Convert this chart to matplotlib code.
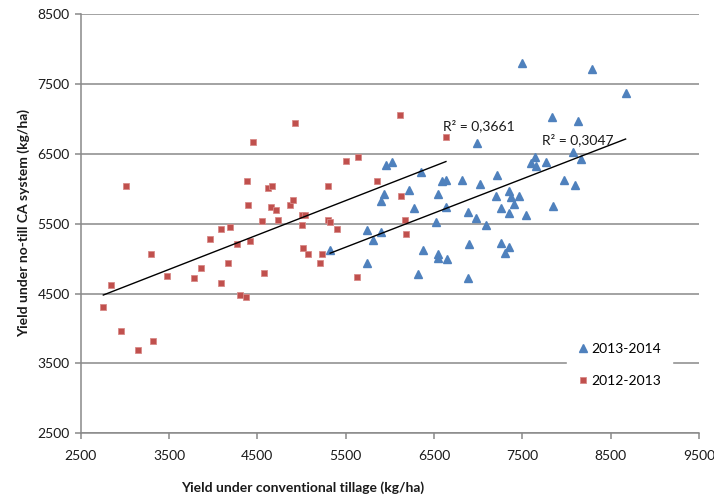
import numpy as np
import matplotlib
matplotlib.use("Agg")
import matplotlib.pyplot as plt

plt.rcParams['font.family'] = ['Lato', 'DejaVu Sans']

# 2012-2013 (red squares)
red_x = [2756, 2843, 2955, 3009, 3145, 3296, 3318, 3473, 3782, 3865,
         3967, 4091, 4091, 4164, 4194, 4273, 4306, 4367, 4383, 4391,
         4417, 4447, 4556, 4578, 4624, 4658, 4669, 4714, 4737, 4870,
         4900, 4926, 5009, 5009, 5013, 5039, 5077, 5209, 5228, 5296,
         5296, 5325, 5405, 5503, 5628, 5636, 5854, 6111, 6130, 6175,
         6182, 6635]
red_y = [4304, 4619, 3962, 6043, 3686, 5071, 3824, 4757, 4724, 4862,
         5281, 4652, 5419, 4933, 5457, 5210, 4481, 4447, 6114, 5767,
         5247, 6667, 5533, 4795, 6010, 5733, 6043, 5700, 5557, 5767,
         5833, 6947, 5629, 5486, 5152, 5629, 5071, 4933, 5071, 6043,
         5557, 5524, 5419, 6390, 4743, 6447, 6114, 7048, 5900, 5557,
         5352, 6743]

# 2013-2014 (blue triangles)
blue_x = [5324, 5739, 5746, 5814, 5897, 5897, 5934, 5957, 6021, 6213,
          6269, 6314, 6348, 6379, 6518, 6541, 6548, 6550, 6589, 6631,
          6631, 6649, 6816, 6883, 6883, 6898, 6970, 6988, 7026, 7094,
          7197, 7208, 7260, 7264, 7305, 7350, 7350, 7350, 7366, 7403,
          7459, 7501, 7538, 7596, 7644, 7655, 7768, 7836, 7844, 7968,
          8073, 8100, 8130, 8168, 8288, 8669]
blue_y = [5129, 4938, 5414, 5262, 5386, 5829, 5929, 6343, 6376, 5986,
          5729, 4781, 6239, 5129, 5519, 5014, 5067, 5929, 6104, 6119,
          5743, 4996, 6119, 5667, 4729, 5205, 5586, 6652, 6067, 5486,
          5890, 6200, 5224, 5719, 5081, 5971, 5653, 5167, 5881, 5786,
          5900, 7804, 5624, 6367, 6453, 6329, 6376, 7024, 5757, 6119,
          6524, 6053, 6976, 6424, 7710, 7367]

series_labels = ['2013-2014', '2012-2013']
r2_labels = ['R² = 0,3661', 'R² = 0,3047']
x_ticks = [2500, 3500, 4500, 5500, 6500, 7500, 8500, 9500]
y_ticks = [2500, 3500, 4500, 5500, 6500, 7500, 8500]

RED = '#C0504D'
BLUE = '#4F81BD'
GRID = '#898989'

fig = plt.figure(figsize=(7.14, 4.97), dpi=100)
ax = fig.add_axes([80.7/714, 1-433.3/497, (699-80.7)/714, (433.3-14)/497])

ax.set_xlim(x_ticks[0], x_ticks[-1])
ax.set_ylim(y_ticks[0], y_ticks[-1])
ax.set_xticks(x_ticks)
ax.set_yticks(y_ticks)
ax.yaxis.grid(True, color=GRID, linewidth=1.1)
ax.set_axisbelow(True)
for s in ['top', 'right']:
    ax.spines[s].set_visible(False)
for s in ['left', 'bottom']:
    ax.spines[s].set_color(GRID)
    ax.spines[s].set_linewidth(1.1)
ax.tick_params(axis='both', colors=GRID, length=4, width=1.1, direction='out',
               labelcolor='#1a1a1a', labelsize=10)
ax.tick_params(axis='x', pad=8)
ax.tick_params(axis='y', pad=4)

hb, = ax.plot(blue_x, blue_y, linestyle='none', marker='^', markersize=6.0,
              color=BLUE, markeredgecolor=BLUE, label=series_labels[0], zorder=3)
hr, = ax.plot(red_x, red_y, linestyle='none', marker='s', markersize=4.6,
              color=RED, markeredgecolor='#D88A88', markeredgewidth=0.6,
              label=series_labels[1], zorder=3)

# linear trendlines
rx = np.array(red_x, dtype=float)
ry = np.array(red_y, dtype=float)
bx = np.array(blue_x, dtype=float)
by = np.array(blue_y, dtype=float)
pr = np.polyfit(rx, ry, 1)
pb = np.polyfit(bx, by, 1)
xr = np.array([rx.min(), rx.max()])
xb = np.array([bx.min(), bx.max()])
ax.plot(xr, np.polyval(pr, xr), color='black', linewidth=1.0, zorder=4)
ax.plot(xb, np.polyval(pb, xb), color='black', linewidth=1.0, zorder=4)

ax.text(6600, 6905, r2_labels[0], fontsize=10, color='#1a1a1a', ha='left', va='center')
ax.text(7720, 6705, r2_labels[1], fontsize=10, color='#1a1a1a', ha='left', va='center')

leg = ax.legend(handles=[hb, hr], loc='center', bbox_to_anchor=(0.872, 0.163),
                frameon=True, fontsize=10, handlelength=0.6, handletextpad=0.35,
                labelspacing=1.45, borderpad=0.8, borderaxespad=0)
leg.get_frame().set_edgecolor('white')
leg.get_frame().set_facecolor('white')
leg.get_frame().set_alpha(1.0)
leg.get_frame().set_boxstyle('square', pad=0)

fig.text(303/714, 1-488/497, 'Yield under conventional tillage (kg/ha)',
         fontsize=10, fontweight='bold', ha='center', va='center', color='#1a1a1a')
fig.text(24/714, 1-223/497, 'Yield under no-till CA system (kg/ha)',
         fontsize=10, fontweight='bold', ha='center', va='center', rotation=90,
         color='#1a1a1a')

fig.savefig('out.png', dpi=100)
